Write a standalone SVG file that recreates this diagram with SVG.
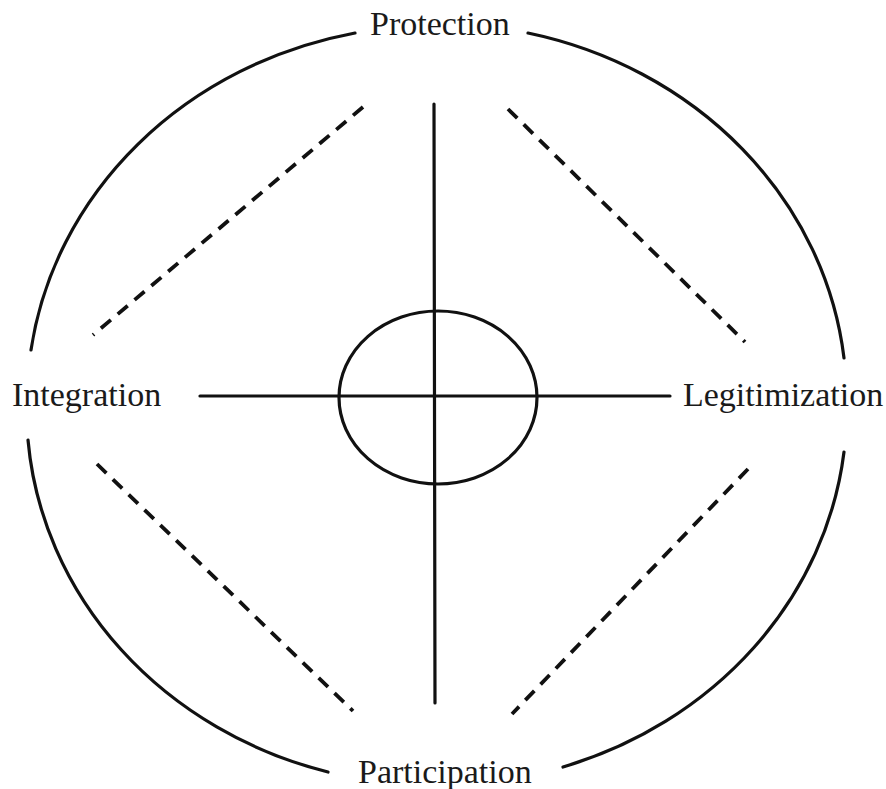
<svg xmlns="http://www.w3.org/2000/svg" width="886" height="789" viewBox="0 0 886 789">
<style>
.solid{fill:none;stroke:#111;stroke-width:3.2;stroke-linecap:round}
.dash{fill:none;stroke:#111;stroke-width:3.8;stroke-dasharray:13 9}
.lbl{font-family:"Liberation Serif","Times New Roman",serif;font-size:34px;fill:#1a1a1a}
</style>
<rect width="886" height="789" fill="#fff"/>
<g id="outer-circle">
<path class="solid" d="M355,33 A409,376 0 0,0 31,350"/>
<path class="solid" d="M28,440 A409,376 0 0,0 328,772"/>
<path class="solid" d="M563,767 A409,376 0 0,0 844,452"/>
<path class="solid" d="M844,358 A409,376 0 0,0 528,33"/>
</g>
<g id="center">
<ellipse class="solid" cx="438" cy="397.5" rx="99" ry="86.5"/>
</g>
<g id="connectors">
<line class="solid" x1="434" y1="104" x2="435" y2="703"/>
<line class="solid" x1="200" y1="396" x2="670" y2="396"/>
<line class="dash" x1="363" y1="107" x2="93" y2="335"/>
<line class="dash" x1="508" y1="109" x2="745" y2="342"/>
<line class="dash" x1="97" y1="464" x2="353" y2="711"/>
<line class="dash" x1="748" y1="469" x2="512" y2="714"/>
</g>
<g id="protection"><text class="lbl" x="370" y="35">Protection</text></g>
<g id="integration"><text class="lbl" x="12" y="406">Integration</text></g>
<g id="legitimization"><text class="lbl" x="683" y="406">Legitimization</text></g>
<g id="participation"><text class="lbl" x="358" y="783">Participation</text></g>
</svg>
